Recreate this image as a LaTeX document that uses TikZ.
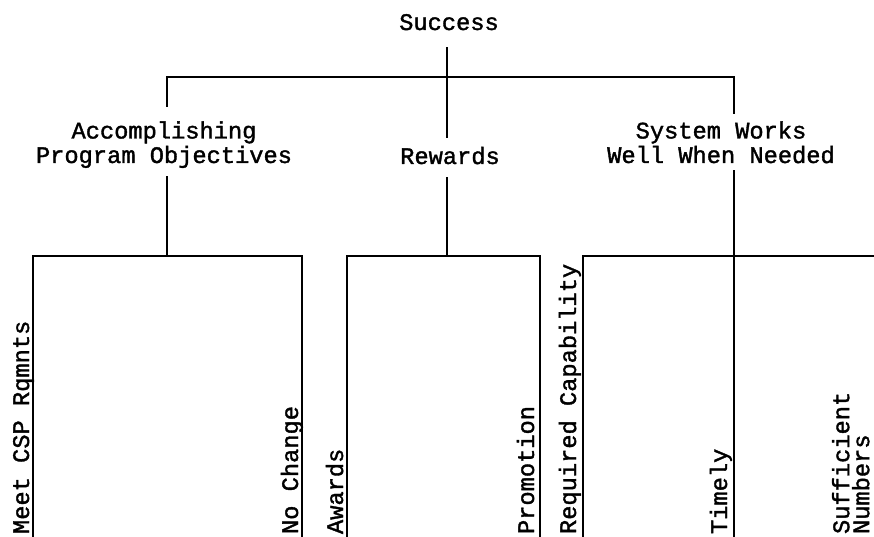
\documentclass[tikz,border=0pt]{standalone}
\usepackage{fontspec}
\setmainfont[FakeBold=1.5]{Liberation Mono}
\begin{document}
\begin{tikzpicture}[x=1pt,y=-1pt,
  lbl/.style={font=\fontsize{23.7}{24.5}\selectfont, inner sep=0pt, outer sep=0pt},
  leaf/.style={lbl, rotate=90, anchor=base west},
  wire/.style={line width=1.8pt, line cap=rect}]
\useasboundingbox (0,0) rectangle (874,537);

% text nodes
\node[lbl, anchor=base] (success) at (449,30) {Success};
\node[lbl, anchor=base, align=center] (acc) at (164,163) {Accomplishing\\Program Objectives};
\node[lbl, anchor=base] (rewards) at (450,164) {Rewards};
\node[lbl, anchor=base, align=center] (sys) at (721,163) {System Works\\Well When Needed};

\node[leaf] (meet)   at (29,534)  {Meet CSP Rqmnts};
\node[leaf] (nochg)  at (298,534) {No Change};
\node[leaf] (awards) at (343,534) {Awards};
\node[leaf] (promo)  at (534,534) {Promotion};
\node[leaf] (reqcap) at (576,534) {Required Capability};
\node[leaf] (timely) at (727,534) {Timely};
\node[lbl, rotate=90, anchor=north west, align=left,
      font=\fontsize{23.7}{20}\selectfont] (suff) at (832,534) {Sufficient\\Numbers};

% junction coordinates
\coordinate (sTop) at (447,48);
\coordinate (rTop) at (447,137);
\coordinate (barL) at (167,77);
\coordinate (barR) at (734,77);
\coordinate (aTop) at (167,106);
\coordinate (wTop) at (734,113);

\coordinate (aBot) at (167,177);
\coordinate (rBot) at (447,178);
\coordinate (wBot) at (734,171);

\coordinate (aBar) at (167,256);
\coordinate (rBar) at (447,256);

\coordinate (l1) at (33,256);  \coordinate (l1e) at (33,537);
\coordinate (l2) at (302,256); \coordinate (l2e) at (302,537);
\coordinate (m1) at (347,256); \coordinate (m1e) at (347,537);
\coordinate (m2) at (540,256); \coordinate (m2e) at (540,537);
\coordinate (r1) at (583,256); \coordinate (r1e) at (583,537);
\coordinate (r2e) at (734,537);
\coordinate (rEdge) at (874,256);

% top level
\draw[wire] (sTop) -- (rTop);
\draw[wire] (aTop) -- (barL) -- (barR) -- (wTop);

% second level
\draw[wire] (aBot) -- (aBar);
\draw[wire] (l1e) -- (l1) -- (l2) -- (l2e);
\draw[wire] (rBot) -- (rBar);
\draw[wire] (m1e) -- (m1) -- (m2) -- (m2e);
\draw[wire] (wBot) -- (r2e);
\draw[wire] (r1e) -- (r1) -- (rEdge);
\end{tikzpicture}
\end{document}
